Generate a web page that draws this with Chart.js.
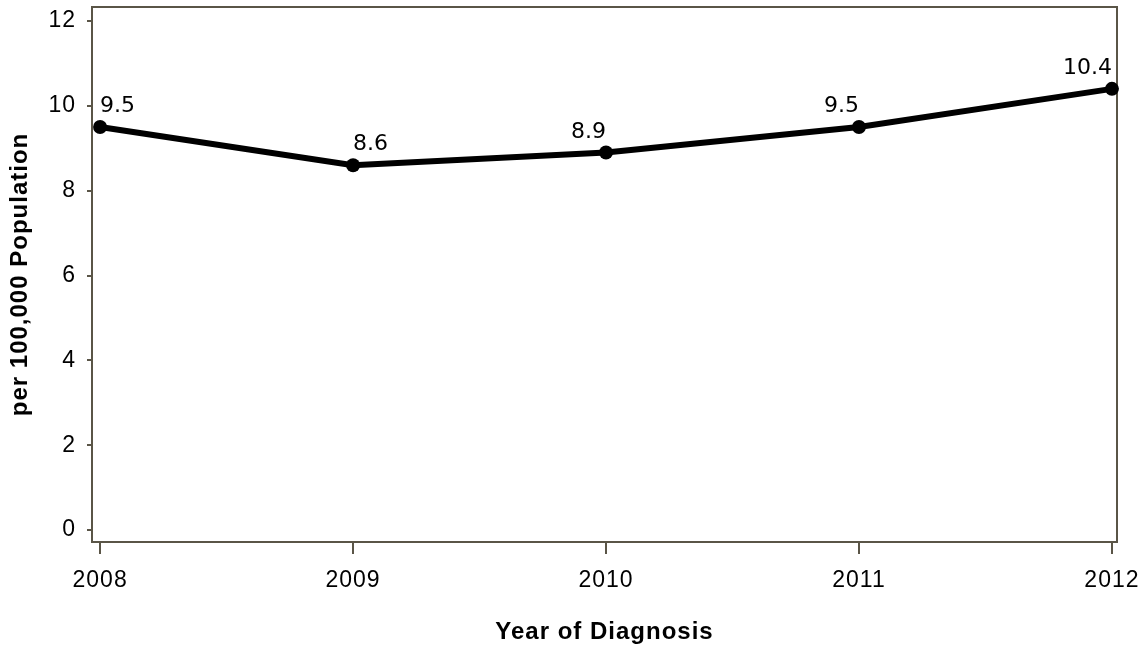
<!DOCTYPE html>
<html>
<head>
<meta charset="utf-8">
<script src="https://cdn.jsdelivr.net/npm/chart.js@4/dist/chart.umd.min.js"></script>
<style>
  html, body { margin: 0; padding: 0; background: #ffffff; }
  #wrap { width: 1140px; height: 647px; position: relative; }
</style>
</head>
<body>
<div id="wrap"><canvas id="c" width="1140" height="647"></canvas></div>
<script>
const years = [2008, 2009, 2010, 2011, 2012];
const rates = [9.5, 8.6, 8.9, 9.5, 10.4];
const yTicks = [0, 2, 4, 6, 8, 10, 12];
const xTitle = 'Year of Diagnosis';
const yTitle = 'per 100,000 Population';

const AXIS = '#5a5547';
const SPACING = '1px';

const spacingPlugin = {
  id: 'spacing',
  beforeInit(chart) { chart.ctx.letterSpacing = SPACING; },
  beforeUpdate(chart) { chart.ctx.letterSpacing = SPACING; },
  beforeDraw(chart) {
    const ctx = chart.ctx;
    ctx.letterSpacing = SPACING;
    ctx.save();
    ctx.fillStyle = '#ffffff';
    ctx.fillRect(0, 0, chart.width, chart.height);
    ctx.restore();
  }
};

const boxPlugin = {
  id: 'box',
  beforeDatasetsDraw(chart) {
    const {ctx, chartArea: a} = chart;
    ctx.save();
    ctx.strokeStyle = AXIS;
    ctx.lineWidth = 2;
    ctx.strokeRect(a.left, a.top, a.right - a.left, a.bottom - a.top);
    ctx.restore();
  }
};

const labelPlugin = {
  id: 'pointLabels',
  afterDatasetsDraw(chart) {
    const ctx = chart.ctx;
    const meta = chart.getDatasetMeta(0);
    const ds = chart.data.datasets[0];
    ctx.save();
    ctx.letterSpacing = '0px';
    ctx.font = '22px "DejaVu Sans"';
    ctx.fillStyle = '#000000';
    ctx.textBaseline = 'alphabetic';
    meta.data.forEach((pt, i) => {
      ctx.textAlign = i < 2 ? 'left' : 'right';
      ctx.fillText(ds.data[i].y.toFixed(1), pt.x, pt.y - 15);
    });
    ctx.restore();
  }
};

function noPad(scale) {
  scale.paddingTop = 0; scale.paddingBottom = 0;
  scale.paddingLeft = 0; scale.paddingRight = 0;
}

new Chart(document.getElementById('c'), {
  type: 'line',
  data: {
    datasets: [{
      data: years.map((yr, i) => ({x: yr, y: rates[i]})),
      borderColor: '#000000',
      backgroundColor: '#000000',
      borderWidth: 6,
      pointRadius: 7,
      pointHoverRadius: 7,
      pointBackgroundColor: '#000000',
      pointBorderWidth: 0,
      tension: 0,
      clip: false
    }]
  },
  options: {
    responsive: false,
    animation: false,
    devicePixelRatio: 1,
    layout: { padding: { top: 6, right: 23, left: 0, bottom: 0 } },
    plugins: { legend: { display: false }, tooltip: { enabled: false } },
    scales: {
      x: {
        type: 'linear',
        min: 2007.968,
        max: 2012.02,
        afterBuildTicks(scale) { scale.ticks = years.map(v => ({value: v})); },
        afterFit(scale) { scale.height = 105; noPad(scale); },
        grid: { display: true, drawOnChartArea: false, drawTicks: true, tickLength: 12, color: AXIS, lineWidth: 2 },
        border: { display: false },
        ticks: {
          color: '#000000',
          font: { family: '"Liberation Sans", Arial, sans-serif', size: 23 },
          padding: 13,
          maxRotation: 0,
          autoSkip: false,
          callback: v => String(v)
        },
        title: {
          display: true,
          text: xTitle,
          color: '#000000',
          font: { family: '"Liberation Sans", Arial, sans-serif', size: 24, weight: 'bold' },
          padding: { top: 0, bottom: 0 }
        }
      },
      y: {
        type: 'linear',
        min: -0.282,
        max: 12.33,
        afterBuildTicks(scale) { scale.ticks = yTicks.map(v => ({value: v})); },
        afterFit(scale) { scale.width = 92; noPad(scale); },
        grid: { display: true, drawOnChartArea: false, drawTicks: true, tickLength: 5, color: AXIS, lineWidth: 2 },
        border: { display: false },
        ticks: {
          color: '#000000',
          font: { family: '"Liberation Sans", Arial, sans-serif', size: 23 },
          padding: 11,
          autoSkip: false,
          callback: v => String(v)
        },
        title: {
          display: true,
          text: yTitle,
          color: '#000000',
          font: { family: '"Liberation Sans", Arial, sans-serif', size: 24, weight: 'bold' },
          padding: { top: 6, bottom: 0 }
        }
      }
    }
  },
  plugins: [spacingPlugin, boxPlugin, labelPlugin]
});
</script>
</body>
</html>
